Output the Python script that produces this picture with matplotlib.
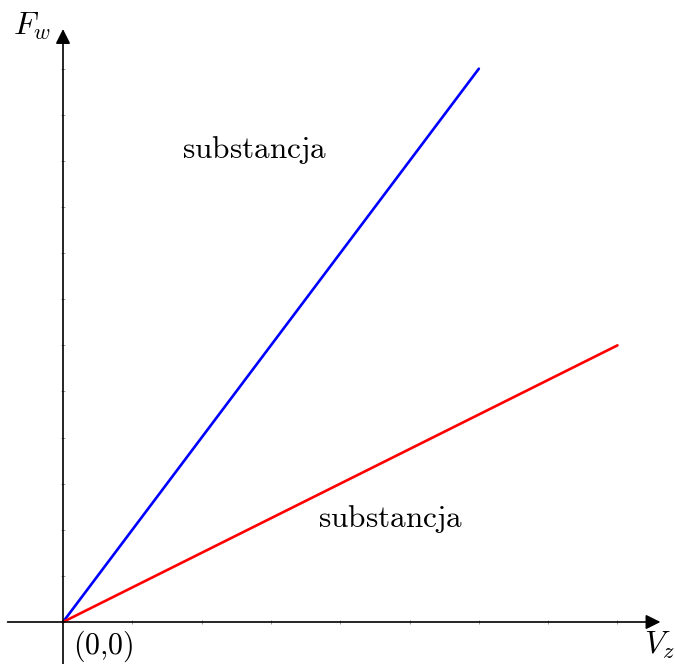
import matplotlib.pyplot as plt
import numpy as np

plt.rcParams['mathtext.fontset'] = 'cm'

# dane
blue_x = [0, 6]
blue_y = [0, 12]
red_x = [0, 8]
red_y = [0, 6]
x_ticks = np.arange(1, 9)
y_ticks = np.arange(1, 13)
labels = ['substancja', 'substancja']
label_pos = [(2.76, 10.24), (4.72, 2.23)]

fig = plt.figure(figsize=(6.75, 6.64), dpi=100)
ax = fig.add_axes([0, 0, 1, 1])
ax.set_xlim(-0.909, 8.83)
ax.set_ylim(-0.911, 13.49)
ax.axis('off')

# osie ze strzalkami
arrow = dict(arrowstyle='-|>', mutation_scale=22, lw=1.2, color='k',
             shrinkA=0, shrinkB=0)
ax.annotate('', xy=(8.62, 0), xytext=(-0.8, 0), arrowprops=arrow)
ax.annotate('', xy=(0, 12.86), xytext=(0, -0.92), arrowprops=arrow)

# drobne znaczniki
ax.plot(x_ticks, np.zeros_like(x_ticks), '|', color='0.6', ms=2.5, mew=0.7)
ax.plot(np.zeros_like(y_ticks), y_ticks, '_', color='0.6', ms=2.5, mew=0.7)

ax.plot(blue_x, blue_y, color='blue', lw=1.9, solid_capstyle='round')
ax.plot(red_x, red_y, color='red', lw=1.9, solid_capstyle='round')

for txt, (x, y) in zip(labels, label_pos):
    ax.text(x, y, r'$\mathrm{' + txt + '}$', fontsize=22.5, ha='center', va='center')

ax.text(-0.45, 12.92, r'$F_w$', fontsize=23, ha='center', va='center')
ax.text(8.61, -0.5, r'$V_z$', fontsize=23, ha='center', va='center')
ax.text(0.58, -0.52, r'$\mathrm{(0{,}0)}$', fontsize=21.5, ha='center', va='center')

fig.savefig('out.png', dpi=100)
